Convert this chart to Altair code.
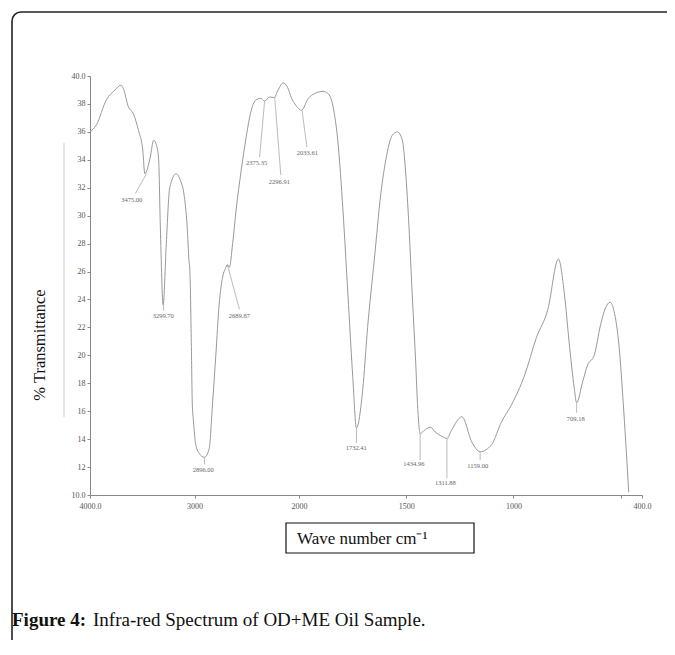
import altair as alt
import pandas as pd

# ---- spectrum (wave number cm-1, % transmittance) ----
wn = [4000, 3939, 3843, 3761, 3704, 3681, 3633, 3585, 3536, 3495, 3475, 3423, 3391,
      3359, 3343, 3327, 3300, 3270, 3237, 3176, 3134, 3102, 3070, 3053, 3044, 3031,
      3021, 3010, 2990, 2957, 2905, 2860, 2828, 2796, 2764, 2731, 2705, 2686, 2667,
      2635, 2602, 2554, 2506, 2457, 2409, 2367, 2329, 2280, 2239, 2200, 2152, 2110,
      2071, 2039, 1988, 1957, 1926, 1888, 1865, 1841, 1818, 1795, 1772, 1749, 1732,
      1703, 1680, 1649, 1618, 1595, 1565, 1541, 1518, 1503, 1487, 1472, 1456, 1446,
      1435, 1410, 1387, 1364, 1333, 1310, 1290, 1240, 1194, 1155, 1102, 1055, 1009,
      947, 893, 839, 790, 762, 739, 716, 705, 677, 654, 623, 593, 570, 549, 531, 508,
      485, 462]
tr = [36.0, 36.5, 38.3, 39.0, 39.35, 39.1, 37.8, 37.3, 36.1, 34.7, 33.0, 34.2, 35.4,
      34.9, 34.0, 29.2, 23.6, 28.0, 32.0, 33.0, 32.5, 31.6, 29.2, 26.8, 26.0, 21.2,
      16.5, 15.3, 13.7, 13.0, 12.7, 13.3, 16.45, 20.0, 23.65, 25.6, 26.2, 26.5, 26.3,
      28.0, 30.4, 33.2, 35.6, 37.55, 38.3, 38.4, 38.2, 38.5, 38.45, 39.0, 39.5, 39.2,
      38.4, 38.0, 37.55, 38.4, 38.75, 38.9, 38.75, 37.8, 35.2, 30.4, 24.4, 18.4, 14.8,
      17.5, 22.0, 26.8, 31.6, 34.0, 35.75, 36.0, 35.4, 33.2, 29.2, 24.4, 19.6, 16.2,
      14.4, 14.7, 14.85, 14.5, 14.2, 14.05, 14.6, 15.6, 13.8, 13.1, 13.6, 15.25, 16.45,
      18.6, 21.25, 23.3, 26.9, 24.4, 20.8, 17.65, 16.6, 18.1, 19.3, 20.0, 22.2, 23.4,
      23.8, 23.2, 20.8, 16.0, 10.2]

# ---- peak annotations ----
peak_text = ["3475.00", "3299.70", "2896.00", "2689.87", "2375.35", "2296.91", "2033.61",
             "1732.41", "1434.96", "1311.88", "1159.00", "709.18"]
label_wn = [3601, 3299, 2916, 2571, 2405, 2188, 1961, 1733, 1464, 1317, 1166, 709]
label_tr = [31.1, 22.8, 11.78, 22.8, 33.8, 32.4, 34.5, 13.33, 12.2, 10.86, 12.07, 15.42]
lead_wn1 = [3459, 3295, 2905, 2686, 2329, 2232, 1986, 1732, 1435, 1310, 1155, 705]
lead_tr1 = [33.0, 23.6, 12.7, 26.5, 38.2, 38.45, 37.55, 14.8, 14.4, 14.05, 13.1, 16.6]
lead_wn2 = [3565, 3295, 2905, 2570, 2377, 2174, 1963, 1732, 1435, 1310, 1155, 705]
lead_tr2 = [31.6, 23.2, 12.2, 23.3, 34.2, 32.9, 34.9, 13.7, 12.5, 11.2, 12.5, 15.9]

x_ticks = [4000, 3000, 2000, 1500, 1000, 500, 400]
y_ticks = [10, 12, 14, 16, 18, 20, 22, 24, 26, 28, 30, 32, 34, 36, 38, 40]

W, H = 552, 419
SERIF = "Liberation Serif"

spec = pd.DataFrame({"wn": wn, "tr": tr, "i": range(len(wn))})
peaks = pd.DataFrame({"txt": peak_text, "lx": label_wn, "ly": label_tr,
                      "x1": lead_wn1, "y1": lead_tr1, "x2": lead_wn2, "y2": lead_tr2})
one = pd.DataFrame({"a": [0]})

xs = alt.Scale(domain=[4000, 2000, 400], range=[0, 209, W])
ys = alt.Scale(domain=[10, 40], nice=False, zero=False)

x_axis = alt.Axis(values=x_ticks, title=None, grid=False, tickSize=3, labelPadding=4,
                  labelFont=SERIF, labelFontSize=8, labelColor="#555", domainColor="#888",
                  tickColor="#888", labelOverlap=False, labelBound=False, labelFlush=False,
                  labelExpr="datum.value == 4000 ? '4000.0' : datum.value == 400 ? '400.0' : datum.value == 500 ? '' : format(datum.value, 'd')")
y_axis = alt.Axis(values=y_ticks, title=None, grid=False, tickSize=3, labelPadding=2,
                  labelFont=SERIF, labelFontSize=8, labelColor="#555", domainColor="#888",
                  tickColor="#888", labelOverlap=False, labelBound=False, labelFlush=False,
                  labelExpr="datum.value == 10 || datum.value == 40 ? format(datum.value, '.1f') : format(datum.value, 'd')")

curve = alt.Chart(spec).mark_line(color="#999", strokeWidth=1.0, interpolate="monotone").encode(
    x=alt.X("wn:Q", scale=xs, axis=x_axis),
    y=alt.Y("tr:Q", scale=ys, axis=y_axis),
    order="i:Q",
)

leads = alt.Chart(peaks).mark_rule(color="#aaa", strokeWidth=0.8).encode(
    x=alt.X("x1:Q", scale=xs, axis=x_axis), x2="x2:Q",
    y=alt.Y("y1:Q", scale=ys, axis=y_axis), y2="y2:Q",
)

labels = alt.Chart(peaks).mark_text(font=SERIF, fontSize=6.5, color="#666").encode(
    x=alt.X("lx:Q", scale=xs, axis=x_axis), y=alt.Y("ly:Q", scale=ys, axis=y_axis), text="txt:N",
)

frame = alt.Chart(one).mark_rect(fill=None, stroke="#222", strokeWidth=1.6, cornerRadius=9).encode(
    x=alt.value(-78), x2=alt.value(720), y=alt.value(-64), y2=alt.value(720))

scanline = alt.Chart(one).mark_rule(color="#bbb", strokeWidth=0.8).encode(
    x=alt.value(-26), y=alt.value(67), y2=alt.value(341))

ytitle = alt.Chart(one).mark_text(text="% Transmittance", font=SERIF, fontSize=16.5, angle=270,
                                  align="center", baseline="middle", color="#111").encode(
    x=alt.value(-50), y=alt.value(269))

xbox = alt.Chart(one).mark_rect(fill=None, stroke="#111", strokeWidth=1.2).encode(
    x=alt.value(196), x2=alt.value(384), y=alt.value(447), y2=alt.value(477))

xtitle = alt.Chart(one).mark_text(text="Wave number cm\u207b\u00b9", font=SERIF, fontSize=17,
                                  align="left", baseline="alphabetic", color="#111").encode(
    x=alt.value(207), y=alt.value(468))

cap_bold = alt.Chart(one).mark_text(text="Figure 4:", font=SERIF, fontSize=19, fontWeight="bold",
                                    align="left", baseline="alphabetic", color="#111").encode(
    x=alt.value(-78), y=alt.value(550))

cap_text = alt.Chart(one).mark_text(text="Infra-red Spectrum of OD+ME Oil Sample.", font=SERIF,
                                    fontSize=19, align="left", baseline="alphabetic", color="#111").encode(
    x=alt.value(3), y=alt.value(550))

chart = alt.layer(curve, leads, labels, frame, scanline, ytitle, xbox, xtitle, cap_bold, cap_text).properties(
    width=W, height=H,
    background="white",
    autosize=alt.AutoSizeParams(type="none"),
    padding={"left": 82, "top": 68, "right": 25, "bottom": 145},
).configure_view(stroke=None).configure_axis(labelOverlap=False)

chart.save("out.html", embed_options={"renderer": "svg", "actions": False})
